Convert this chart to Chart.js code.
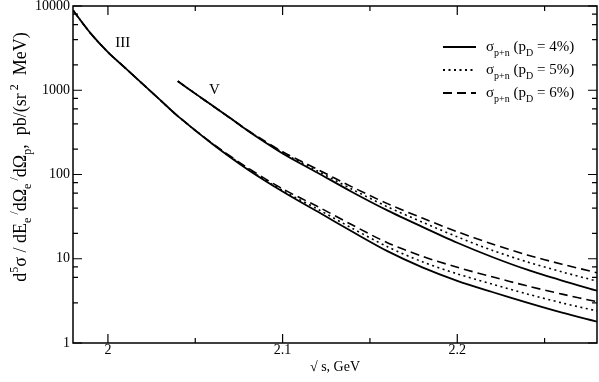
<!DOCTYPE html>
<html>
<head>
<meta charset="utf-8">
<script src="https://cdn.jsdelivr.net/npm/chart.js@4.4.0/dist/chart.umd.min.js"></script>
<style>
  html, body { margin: 0; padding: 0; background: #fff; }
</style>
</head>
<body>
<canvas id="myChart" width="599" height="382"></canvas>
<script>
// Values
let xIII = [1.98, 1.99, 2.00, 2.01, 2.02, 2.03, 2.04, 2.06, 2.08, 2.10, 2.12, 2.14, 2.16, 2.18, 2.20, 2.22, 2.24, 2.26, 2.28];
let iiiSolid  = [8900, 4760, 2830, 1830, 1180, 763, 493, 229, 115, 63, 36.3, 20.9, 12.3, 7.9, 5.47, 4.03, 3.01, 2.29, 1.79];
let iiiDotted = [8900, 4760, 2830, 1830, 1180, 763, 493, 230, 117, 64.6, 38.9, 22.9, 13.9, 9.2, 6.62, 5.0, 3.82, 2.99, 2.40];
let iiiDashed = [8900, 4760, 2830, 1830, 1180, 763, 493, 232, 120, 67.6, 41.7, 25.1, 15.5, 10.7, 7.91, 6.10, 4.76, 3.80, 3.09];

let xV = [2.04, 2.05, 2.06, 2.07, 2.08, 2.10, 2.12, 2.14, 2.16, 2.18, 2.20, 2.22, 2.24, 2.26, 2.28];
let vSolid  = [1282, 912, 653, 468, 331, 178, 105, 61.7, 37.5, 23.9, 15.5, 10.5, 7.41, 5.50, 4.17];
let vDotted = [1282, 912, 653, 468, 333, 182, 110, 66.4, 41.4, 27.2, 18.2, 12.6, 9.18, 6.98, 5.43];
let vDashed = [1282, 912, 653, 468, 335, 186, 115, 70.8, 45.1, 30.4, 20.9, 15.0, 11.1, 8.61, 6.82];

let xMajorTicks = [2, 2.1, 2.2];
let xMinorTicks = [2.05, 2.15, 2.25];
let yTickLabels = [1, 10, 100, 1000, 10000];

let legendLabels = ['4%', '5%', '6%'];
let curveLabels = [{ text: 'III', x: 2.0085, y: 3600 }, { text: 'V', x: 2.061, y: 1000 }];

let serif = "'Liberation Serif', 'DejaVu Serif', serif";
let dotted = [2, 3.5];
let dashed = [9, 5];

function toPoints(xs, ys) {
  let pts = [];
  for (let i = 0; i < xs.length; i++) {
    pts.push({ x: xs[i], y: ys[i] });
  }
  return pts;
}

function curve(xs, ys, dash) {
  return {
    data: toPoints(xs, ys),
    borderColor: '#000',
    borderWidth: dash.length ? 1.6 : 1.8,
    borderDash: dash,
    pointRadius: 0,
    fill: false,
    tension: 0.3
  };
}

// draw text with sub / superscripts, segments: [text, 'n'|'sub'|'sup']
function drawRich(ctx, segs, x, y, size, small, align) {
  let total = 0;
  segs.forEach(function(s) {
    ctx.font = (s[1] === 'n' ? size : small) + 'px ' + serif;
    total += ctx.measureText(s[0]).width;
  });
  let cx = align === 'center' ? x - total / 2 : x;
  ctx.textAlign = 'left';
  ctx.textBaseline = 'alphabetic';
  segs.forEach(function(s) {
    let dy = 0;
    if (s[1] === 'sub') dy = size * 0.3;
    if (s[1] === 'sup') dy = -size * 0.42;
    ctx.font = (s[1] === 'n' ? size : small) + 'px ' + serif;
    ctx.fillText(s[0], cx, y + dy);
    cx += ctx.measureText(s[0]).width;
  });
}

let decorations = {
  id: 'decorations',
  afterDraw: function(chart) {
    let ctx = chart.ctx;
    let a = chart.chartArea;
    let xs = chart.scales.x;
    let ys = chart.scales.y;
    ctx.save();
    ctx.strokeStyle = '#000';
    ctx.fillStyle = '#000';
    ctx.lineWidth = 1.5;
    ctx.setLineDash([]);
    ctx.strokeRect(a.left, a.top, a.right - a.left, a.bottom - a.top);

    // inward ticks
    ctx.lineWidth = 1.2;
    ctx.beginPath();
    ys.ticks.forEach(function(t) {
      let p = ys.getPixelForValue(t.value);
      let lg = Math.log10(t.value);
      let len = Math.abs(lg - Math.round(lg)) < 1e-6 ? 9 : 5;
      ctx.moveTo(a.left, p); ctx.lineTo(a.left + len, p);
      ctx.moveTo(a.right, p); ctx.lineTo(a.right - len, p);
    });
    xMajorTicks.concat(xMinorTicks).forEach(function(v) {
      let p = xs.getPixelForValue(v);
      let len = xMajorTicks.indexOf(v) >= 0 ? 9 : 5;
      ctx.moveTo(p, a.bottom); ctx.lineTo(p, a.bottom - len);
      ctx.moveTo(p, a.top); ctx.lineTo(p, a.top + len);
    });
    ctx.stroke();

    // tick labels
    ctx.font = '14px ' + serif;
    ctx.textBaseline = 'middle';
    ctx.textAlign = 'right';
    yTickLabels.forEach(function(v) {
      ctx.fillText(String(v), a.left - 3, ys.getPixelForValue(v));
    });
    ctx.textAlign = 'center';
    xMajorTicks.forEach(function(v) {
      ctx.fillText(String(v), xs.getPixelForValue(v), a.bottom + 7);
    });
    ctx.fillText('√ s, GeV', (a.left + a.right) / 2, a.bottom + 24);

    // curve labels
    curveLabels.forEach(function(c) {
      ctx.font = '15px ' + serif;
      ctx.textAlign = 'center';
      ctx.textBaseline = 'middle';
      ctx.fillText(c.text, xs.getPixelForValue(c.x), ys.getPixelForValue(c.y));
    });

    // legend
    let dashes = [[], dotted, dashed];
    legendLabels.forEach(function(lab, i) {
      let ly = 47 + i * 23;
      ctx.beginPath();
      ctx.lineWidth = 1.8;
      ctx.setLineDash(dashes[i]);
      ctx.moveTo(443, ly);
      ctx.lineTo(476, ly);
      ctx.stroke();
      ctx.setLineDash([]);
      drawRich(ctx, [['σ', 'n'], ['p+n', 'sub'], [' (p', 'n'], ['D', 'sub'], [' = ' + lab + ')', 'n']], 486, ly + 4, 15, 10, 'left');
    });

    // y axis title
    ctx.translate(21, 157);
    ctx.rotate(-Math.PI / 2);
    drawRich(ctx, [
      ['d', 'n'], ['5', 'sup'], ['σ / dE', 'n'], ['e', 'sub'], [' /', 'sup'],
      ['dΩ', 'n'], ['e', 'sub'], [' /', 'sup'], ['dΩ', 'n'], ['p', 'sub'],
      [',  pb/(sr', 'n'], [' 2', 'sup'], ['  MeV)', 'n']
    ], 0, 5, 18, 12, 'center');
    ctx.restore();
  }
};

let ctx = document.getElementById('myChart');
let myChart = new Chart(ctx, {
  type: 'line',
  data: {
    datasets: [
      curve(xIII, iiiSolid, []),
      curve(xIII, iiiDotted, dotted),
      curve(xIII, iiiDashed, dashed),
      curve(xV, vSolid, []),
      curve(xV, vDotted, dotted),
      curve(xV, vDashed, dashed)
    ]
  },
  options: {
    responsive: false,
    animation: false,
    layout: { padding: { left: 73, right: 2, top: 6, bottom: 39 } },
    plugins: { legend: { display: false }, tooltip: { enabled: false } },
    scales: {
      x: { type: 'linear', display: false, min: 1.98, max: 2.28 },
      y: { type: 'logarithmic', display: false, min: 1, max: 10000 }
    }
  },
  plugins: [decorations]
});
</script>
</body>
</html>
